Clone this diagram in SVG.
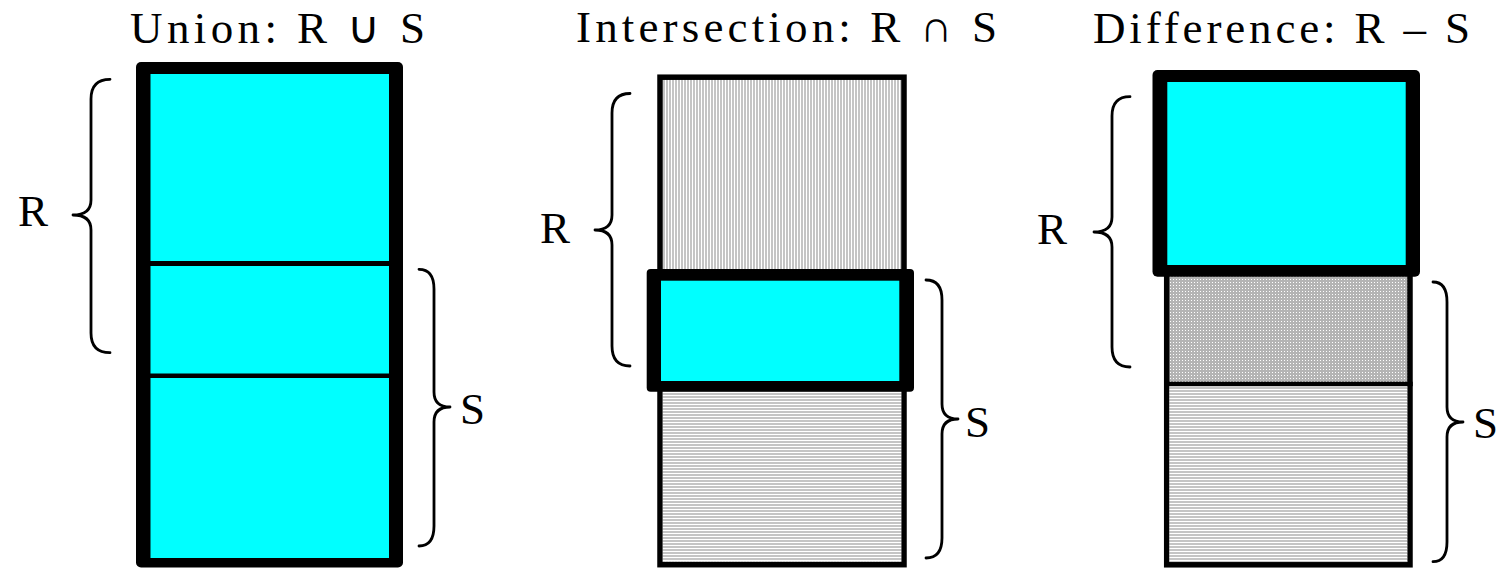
<svg xmlns="http://www.w3.org/2000/svg" width="1499" height="568" viewBox="0 0 1499 568">
<style>
.title{font-family:"Liberation Serif","Times New Roman",serif;font-size:45px;fill:#000}
.lbl{font-family:"Liberation Serif","Times New Roman",serif;font-size:45px;fill:#000}
.brace{fill:none;stroke:#000;stroke-width:2.8;stroke-linecap:round;stroke-linejoin:round}
.cyan{fill:#00ffff}
.blk{fill:#000}
.col{stroke:#000;stroke-width:5.5}
</style>
<defs>
<pattern id="vstripe" patternUnits="userSpaceOnUse" x="0" y="0" width="3" height="3">
<rect width="3" height="3" fill="#ffffff"/>
<rect x="0" y="0" width="2" height="3" fill="#c4c4c4"/>
</pattern>
<pattern id="hstripe" patternUnits="userSpaceOnUse" x="0" y="0" width="3" height="3">
<rect width="3" height="3" fill="#ffffff"/>
<rect x="0" y="0" width="3" height="2" fill="#c4c4c4"/>
</pattern>
<pattern id="grid" patternUnits="userSpaceOnUse" x="0" y="0" width="3" height="3">
<rect width="3" height="3" fill="#b4b4b4"/>
<rect x="0" y="0" width="1" height="1" fill="#ffffff"/>
</pattern>
</defs>

<g id="union">
<text class="title" x="130" y="43" textLength="295" lengthAdjust="spacing">Union: R ∪ S</text>
<rect class="blk" x="136" y="62" width="267" height="505.5" rx="5"/>
<rect class="cyan" x="150.5" y="74" width="238.5" height="187"/>
<rect class="cyan" x="150.5" y="266" width="238.5" height="107.5"/>
<rect class="cyan" x="150.5" y="378" width="238.5" height="180"/>
</g>

<g id="intersection">
<text class="title" x="576" y="42" textLength="421" lengthAdjust="spacing">Intersection: R ∩ S</text>
<rect class="col" x="660" y="77.2" width="244" height="487.5" fill="url(#vstripe)"/>
<rect x="662.8" y="390" width="238.5" height="171.8" fill="url(#hstripe)"/>
<rect class="blk" x="646.7" y="269" width="267.3" height="122.7" rx="4"/>
<rect class="cyan" x="661" y="280.7" width="238.3" height="100.3"/>
</g>

<g id="difference">
<text class="title" x="1093" y="43" textLength="377" lengthAdjust="spacing">Difference: R – S</text>
<rect class="col" x="1166.7" y="200" width="243.3" height="364.8" fill="url(#grid)"/>
<rect x="1169.4" y="386" width="237.9" height="176" fill="url(#hstripe)"/>
<rect class="blk" x="1166" y="381.7" width="246.7" height="4.5"/>
<rect class="blk" x="1152.5" y="70" width="267.5" height="206.7" rx="5"/>
<rect class="cyan" x="1167.3" y="82" width="238.4" height="183"/>
</g>

<g id="connectors">
<path class="brace" d="M110,79.3 Q91,79.3 91,99 L91,200 Q91,215 73,215 Q91,215 91,230 L91,333 Q91,352.7 110,352.7"/>
<path class="brace" d="M419,269.3 Q434,269.3 434,289 L434,392 Q434,407 450,407 Q434,407 434,422 L434,526 Q434,546 419,546"/>
<path class="brace" d="M630,93.5 Q612,93.5 612,113 L612,215 Q612,230 595,230 Q612,230 612,245 L612,346 Q612,366 630,366"/>
<path class="brace" d="M926,280 Q942,280 942,300 L942,404 Q942,419 958,419 Q942,419 942,434 L942,538 Q942,558 926,558"/>
<path class="brace" d="M1130,96.7 Q1112,96.7 1112,116 L1112,217 Q1112,232 1094,232 Q1112,232 1112,247 L1112,347 Q1112,367 1130,367"/>
<path class="brace" d="M1433,282 Q1447,282 1447,302 L1447,407 Q1447,422 1463,422 Q1447,422 1447,437 L1447,542 Q1447,561.7 1433,561.7"/>
</g>

<g id="labels">
<text class="lbl" x="18" y="226">R</text>
<text class="lbl" x="460" y="423.5">S</text>
<text class="lbl" x="540" y="243">R</text>
<text class="lbl" x="965" y="437">S</text>
<text class="lbl" x="1037" y="244">R</text>
<text class="lbl" x="1473" y="438">S</text>
</g>
</svg>
